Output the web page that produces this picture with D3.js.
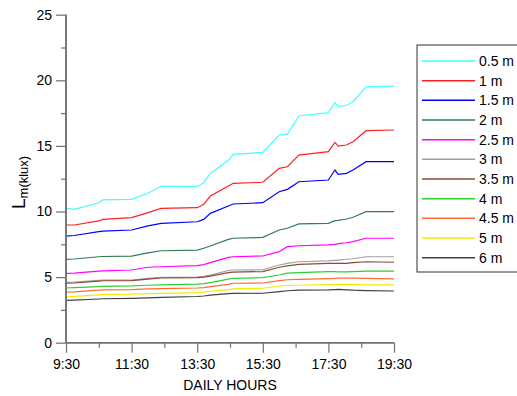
<!DOCTYPE html>
<html>
<head>
<meta charset="utf-8">
<script src="https://cdn.jsdelivr.net/npm/d3@7"></script>
<style>
body{margin:0;background:#fff;}
text{font-family:"Liberation Sans",Arial,sans-serif;}
</style>
</head>
<body>
<svg id="screen" width="517" height="396"></svg>
<script>
// time of reading, hours
var hours=[9.5,9.75,10.5,10.62,11.5,12.0,12.4,13.5,13.7,13.9,14.45,14.6,15.5,16.0,16.25,16.6,17.5,17.7,17.8,18.05,18.25,18.65,19.5];

var depths=["0.5 m","1 m","1.5 m","2 m","2.5 m","3 m","3.5 m","4 m","4.5 m","5 m","6 m"];
var colors=["#40ffff","#ff2020","#0000ff","#2e7d50","#ff00ff","#a0a0a0","#8b4a3a","#30d030","#ff6a30","#f0ec00","#404040"];

var lm05=[10.25,10.17,10.67,10.88,10.93,11.39,11.94,11.89,12.2,12.9,13.9,14.36,14.51,15.83,15.9,17.28,17.54,18.29,17.99,18.1,18.37,19.5,19.56];
var lm1=[8.97,8.97,9.28,9.4,9.53,9.91,10.24,10.29,10.55,11.18,11.94,12.15,12.23,13.29,13.41,14.3,14.56,15.27,14.99,15.07,15.32,16.16,16.21];
var lm15=[8.13,8.17,8.46,8.51,8.59,8.9,9.1,9.22,9.4,9.86,10.42,10.57,10.67,11.51,11.69,12.27,12.4,13.16,12.83,12.91,13.16,13.8,13.8];
var lm2=[6.35,6.38,6.55,6.57,6.6,6.85,7.01,7.06,7.2,7.37,7.88,7.96,8.03,8.59,8.72,9.05,9.1,9.3,9.33,9.43,9.56,9.99,9.99];
var lm25=[5.29,5.31,5.46,5.48,5.54,5.75,5.79,5.87,5.95,6.1,6.5,6.55,6.61,6.94,7.32,7.39,7.45,7.5,7.55,7.62,7.7,7.96,7.96];
var lm3=[4.6,4.62,4.75,4.77,4.78,4.9,4.98,5.0,5.05,5.15,5.5,5.54,5.56,5.92,6.05,6.17,6.23,6.28,6.3,6.36,6.4,6.55,6.55];
var lm35=[4.53,4.55,4.7,4.72,4.73,4.85,4.93,4.96,5.0,5.08,5.34,5.38,5.42,5.75,5.85,5.97,6.05,6.05,6.05,6.05,6.1,6.17,6.13];
var lm4=[4.17,4.2,4.27,4.3,4.33,4.38,4.4,4.47,4.5,4.58,4.85,4.91,4.96,5.16,5.3,5.34,5.41,5.41,5.4,5.4,5.42,5.46,5.46];
var lm45=[3.86,3.88,4.0,4.03,4.05,4.1,4.12,4.17,4.2,4.28,4.45,4.53,4.55,4.73,4.8,4.83,4.88,4.9,4.92,4.93,4.92,4.9,4.86];
var lm5=[3.51,3.53,3.65,3.68,3.7,3.74,3.76,3.82,3.85,3.92,4.05,4.1,4.15,4.32,4.36,4.38,4.43,4.45,4.45,4.44,4.42,4.4,4.4];
var lm6=[3.22,3.24,3.33,3.35,3.38,3.42,3.45,3.52,3.56,3.62,3.74,3.76,3.77,3.89,3.96,4.0,4.02,4.05,4.07,4.03,4.0,3.97,3.94];

var series=[lm05,lm1,lm15,lm2,lm25,lm3,lm35,lm4,lm45,lm5,lm6];

var xTicks=[9.5,11.5,13.5,15.5,17.5,19.5];
var xMinor=[10.5,12.5,14.5,16.5,18.5];
var yTicks=[0,5,10,15,20,25];
var yMinor=[2.5,7.5,12.5,17.5,22.5];

var svg=d3.select("#screen");
var axisColor="#707070";

var x=d3.scaleLinear().domain([9.5,19.5]).range([66,394]);
var y=d3.scaleLinear().domain([0,25]).range([342.7,14.7]);

function hm(d){
    var h=Math.floor(d), m=Math.round((d-h)*60);
    return h+":"+(m<10?"0":"")+m;
}

//Lines
var line=d3.line().x(function(d,i){return x(hours[i]);}).y(function(d){return y(d);});
svg.selectAll("path.series").data(series).enter().append("path")
    .attr("class","series")
    .attr("d",line)
    .attr("fill","none")
    .attr("stroke",function(d,i){return colors[i];})
    .attr("stroke-width",1.2);

//x axis
var gx=svg.append("g").attr("transform","translate(0,"+y(0)+")");
gx.call(d3.axisBottom(x).tickValues(xTicks).tickFormat(hm).tickSize(10).tickPadding(6));
gx.append("g").call(d3.axisBottom(x).tickValues(xMinor).tickFormat("").tickSize(5));

//y axis
var gy=svg.append("g").attr("transform","translate("+x(9.5)+",0)");
gy.call(d3.axisLeft(y).tickValues(yTicks).tickSize(10).tickPadding(4));
gy.append("g").call(d3.axisLeft(y).tickValues(yMinor).tickFormat("").tickSize(5));

svg.selectAll(".domain").attr("stroke",axisColor).attr("stroke-width",1.5);
svg.selectAll(".tick line").attr("stroke",axisColor).attr("stroke-width",1.2);
svg.selectAll(".tick text").attr("fill","#000").style("font-size","14px").style("font-family","Liberation Sans, Arial, sans-serif");
gx.selectAll(".domain").attr("d","M"+x(9.5)+",0H"+x(19.5));
gy.selectAll(".domain").attr("d","M0,"+y(0)+"V"+y(25));

//axis titles
svg.append("text").attr("x",230).attr("y",390).attr("text-anchor","middle")
    .style("font-size","14px").text("DAILY HOURS");

var yl=svg.append("text").attr("transform","translate(25,209) rotate(-90)");
yl.append("tspan").style("font-size","19px").text("L");
yl.append("tspan").style("font-size","13px").attr("dy",3).text("m(klux)");

//Legend
svg.append("rect").attr("x",417).attr("y",45).attr("width",130).attr("height",227)
    .attr("fill","#fff").attr("stroke","#333").attr("stroke-width",1);

var leg=svg.selectAll("g.leg").data(depths).enter().append("g")
    .attr("class","leg")
    .attr("transform",function(d,i){return "translate(0,"+(61+i*19.67)+")";});
leg.append("line").attr("x1",422).attr("x2",475)
    .attr("stroke",function(d,i){return colors[i];}).attr("stroke-width",1.5);
leg.append("text").attr("x",479).attr("y",5).style("font-size","14px").text(function(d){return d;});
</script>
</body>
</html>
